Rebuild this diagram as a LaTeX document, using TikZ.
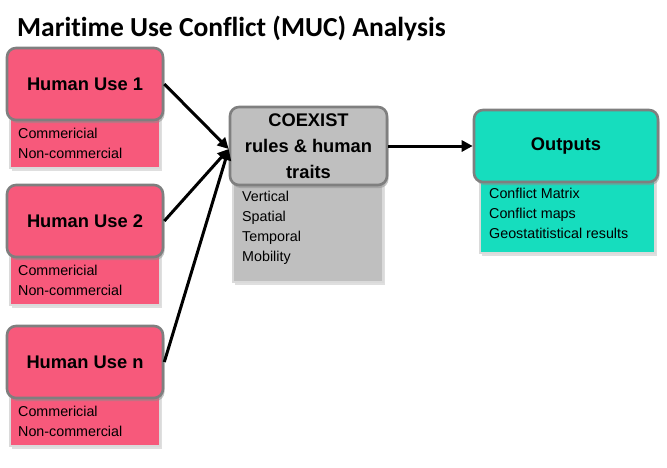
\documentclass[tikz,border=0pt]{standalone}
\usepackage{fontspec}
\setmainfont{Liberation Sans}
\newfontfamily\titlefont[Ligatures=NoCommon]{Carlito}
\usepackage{tikz}
\usetikzlibrary{arrows.meta,shadows}
\usepackage{xcolor}
\definecolor{Rose}{HTML}{F7597B}
\definecolor{Aqua}{HTML}{16DDBE}
\definecolor{Ash}{HTML}{BFBFBF}
\definecolor{Frame}{HTML}{7F7F7F}
\definecolor{Rim}{HTML}{DADADA}

\begin{document}
\begin{tikzpicture}[x=1pt,y=-1pt,
  hdr/.style={draw=Frame,line width=2.6pt,rounded corners=9pt,minimum width=156pt,
    minimum height=72pt,align=center,font=\bfseries\fontsize{18.3}{26}\selectfont,
    drop shadow={shadow xshift=1.5pt,shadow yshift=-3pt,fill=black!45}},
  sub/.style={draw=Rim,line width=2pt,
    drop shadow={shadow xshift=1.5pt,shadow yshift=-3pt,fill=black!25}},
  txt/.style={anchor=west,align=left,inner sep=0pt,font=\fontsize{14.3}{20}\selectfont},
  link/.style={line width=3pt,-{Triangle[length=11pt,width=11pt]}}]
  \useasboundingbox (0,0) rectangle (667,467);
  \node[anchor=west,inner sep=0pt,font=\titlefont\bfseries\fontsize{27.5}{32}\selectfont] (title) at (17,28)
    {Maritime Use Conflict (MUC) Analysis};
  % human uses
  \foreach \n/\y/\lab in {1/84/Human Use 1,2/221/Human Use 2,n/362/Human Use n}{
    \draw[sub,fill=Rose] (10,\y+30) rectangle (160,\y+84);
    \node[hdr,fill=Rose] (hu\n) at (85,\y) {\lab};
    \node[txt] (hu\n txt) at (18,\y+59) {Commericial\\Non-commercial};
  }
  % rules
  \draw[sub,fill=Ash] (233,180) rectangle (383,282);
  \node[hdr,fill=Ash,minimum width=157pt,minimum height=78pt] (coex) at (308.5,146)
    {COEXIST\\rules \& human\\traits};
  \node[txt] (coextxt) at (242,228) {Vertical\\Spatial\\Temporal\\Mobility};
  % outputs
  \draw[sub,fill=Aqua] (480,177) rectangle (655,253);
  \node[hdr,fill=Aqua,minimum width=184pt,font=\bfseries\fontsize{18.3}{25}\selectfont] (out) at (566,146) {Outputs};
  \node[txt] (outtxt) at (489,213) {Conflict Matrix\\Conflict maps\\Geostatitistical results};
  % links
  \foreach \n in {1,2,n}
    \draw[link] (hu\n.east) -- ([yshift=-3pt]coex.west);
  \draw[link] (coex.east) -- (out.west);
\end{tikzpicture}
\end{document}
